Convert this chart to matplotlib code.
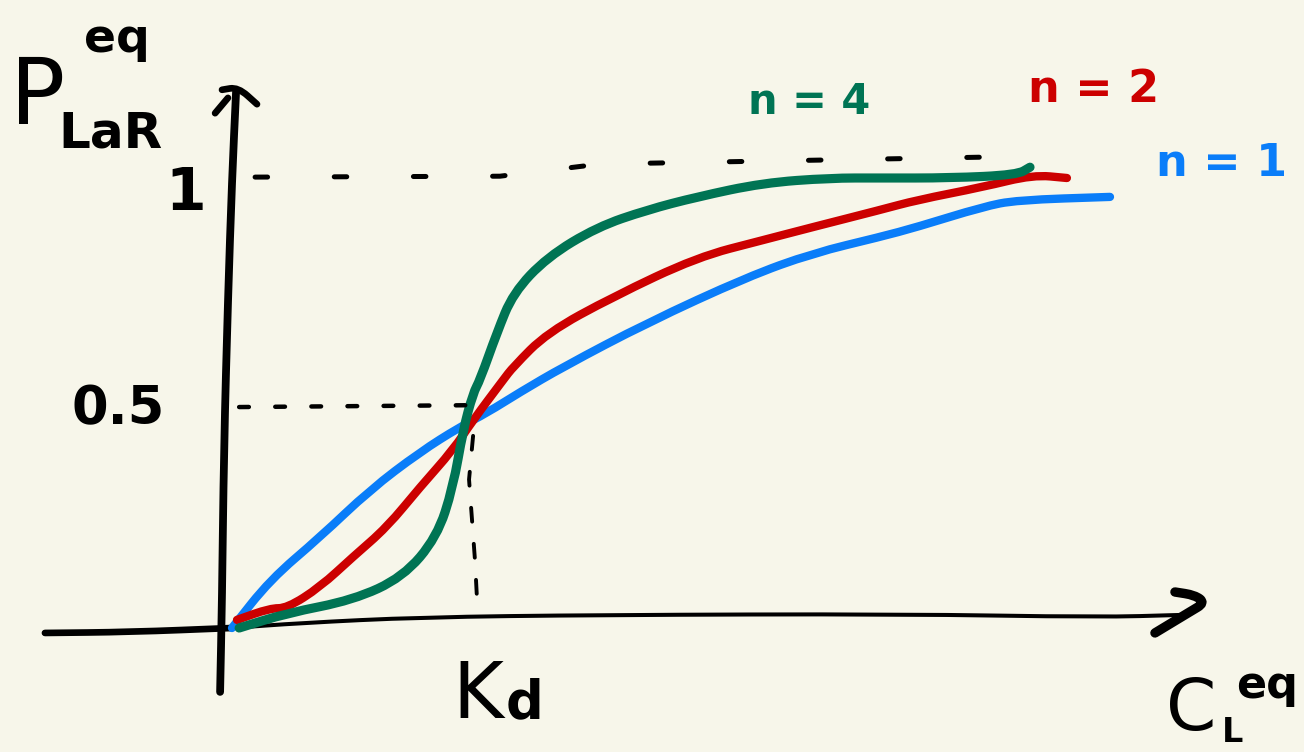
import matplotlib
matplotlib.use("Agg")
import matplotlib.pyplot as plt
from matplotlib.path import Path
from matplotlib.patches import PathPatch

plt.rcParams["lines.scale_dashes"] = False
plt.rcParams["font.family"] = ["DejaVu Sans"]

# Ligand concentration (in units of Kd) and equilibrium bound fraction
conc_n1 = [0.0, 0.16, 0.37, 0.58, 0.79, 0.958, 1.071, 1.21, 1.391, 1.744,
           2.164, 2.441, 2.723, 2.878, 3.155, 3.298, 3.689]
p_n1 = [0.0, 0.107, 0.202, 0.307, 0.391, 0.447, 0.478, 0.524, 0.58, 0.678,
        0.78, 0.833, 0.869, 0.891, 0.936, 0.951, 0.958]

conc_n2 = [0.021, 0.16, 0.231, 0.37, 0.508, 0.651, 0.79, 0.929, 1.013, 1.139,
           1.181, 1.324, 1.601, 1.954, 2.231, 2.441, 2.723, 2.878, 3.155,
           3.366, 3.508]
p_n2 = [0.018, 0.044, 0.044, 0.091, 0.158, 0.224, 0.313, 0.396, 0.462, 0.551,
        0.58, 0.656, 0.736, 0.824, 0.862, 0.891, 0.929, 0.951, 0.98, 1.007,
        1.0]

conc_n4 = [0.03, 0.231, 0.508, 0.718, 0.861, 0.929, 0.971, 1.013, 1.042,
           1.113, 1.181, 1.324, 1.534, 1.744, 1.954, 2.231, 2.513, 2.723,
           3.017, 3.298, 3.353]
p_n4 = [0.0, 0.033, 0.062, 0.113, 0.202, 0.313, 0.44, 0.522, 0.551, 0.656,
        0.744, 0.824, 0.891, 0.929, 0.958, 0.989, 1.0, 1.0, 1.0, 1.007, 1.024]

# Guide lines: saturation level, half-saturation level and Kd
sat_x = [0.097, 1.126, 1.546, 3.227]
sat_y = [1.002, 1.004, 1.031, 1.047]
half_x = [0.03, 0.98]
half_y = [0.491, 0.495]
kd_x = [1.013, 0.996, 1.021, 1.03]
kd_y = [0.427, 0.33, 0.15, 0.058]

# Hand-drawn axes
yaxis_x = [-0.05, -0.042, -0.034, -0.017, 0.0, 0.017]
yaxis_y = [-0.142, 0.062, 0.396, 0.729, 0.996, 1.191]
yhead_left_x = [-0.071, -0.017]
yhead_left_y = [1.144, 1.178]
yhead_cap_x = [-0.042, 0.025, 0.105]
yhead_cap_y = [1.196, 1.202, 1.164]
xaxis_left_x = [-0.786, -0.429, 0.0]
xaxis_left_y = [-0.011, -0.009, 0.0]
xaxis_x = [0.0, 0.286, 0.79, 1.546, 2.807, 3.647, 3.983]
xaxis_y = [0.0, 0.011, 0.024, 0.029, 0.031, 0.024, 0.029]
xhead_x = [3.962, 4.046, 4.088, 4.025, 3.878]
xhead_y = [0.08, 0.073, 0.056, 0.036, -0.011]

BG = "#f7f6ea"
BLUE = "#0a7df9"
RED = "#cc0000"
GREEN = "#007454"
INK = "black"

W, H = 1304, 752
X0, XU, Y0, YU = 232, 238, 628, 450

fig = plt.figure(figsize=(W / 100, H / 100), dpi=100, facecolor=BG)
ax = fig.add_axes([0, 0, 1, 1], facecolor=BG)
ax.set_xlim(-X0 / XU, (W - X0) / XU)
ax.set_ylim((Y0 - H) / YU, Y0 / YU)
ax.axis("off")


def stroke(xs, ys, color, lw):
    """Draw a smooth pen stroke through the given points (quadratic
    curves between midpoints, with the points as control points)."""
    pts = list(zip(xs, ys))
    if len(pts) < 3:
        verts, codes = pts, [Path.MOVETO, Path.LINETO]
    else:
        mid = lambda a, b: ((a[0] + b[0]) / 2, (a[1] + b[1]) / 2)
        verts = [pts[0], mid(pts[0], pts[1])]
        codes = [Path.MOVETO, Path.LINETO]
        for i in range(1, len(pts) - 1):
            verts += [pts[i], mid(pts[i], pts[i + 1])]
            codes += [Path.CURVE3, Path.CURVE3]
        verts.append(pts[-1])
        codes.append(Path.LINETO)
    ax.add_patch(PathPatch(Path(verts, codes), fill=False, edgecolor=color,
                           lw=lw, capstyle="round", joinstyle="round"))


rnd = dict(solid_capstyle="round", solid_joinstyle="round",
           dash_capstyle="round")

# axes
stroke(yaxis_x, yaxis_y, INK, 5.6)
stroke(yhead_left_x, yhead_left_y, INK, 4.8)
stroke(yhead_cap_x, yhead_cap_y, INK, 4.8)
stroke(xaxis_left_x, xaxis_left_y, INK, 4.8)
stroke(xaxis_x, xaxis_y, INK, 2.9)
stroke(xhead_x, xhead_y, INK, 6.8)

# dashed guides
ax.plot(sat_x, sat_y, color=INK, lw=3.6, linestyle=(0, (9, 48)), **rnd)
ax.plot(half_x, half_y, color=INK, lw=3.2, linestyle=(0, (7, 19)), **rnd)
ax.plot(kd_x, kd_y, color=INK, lw=2.8, linestyle=(0, (10, 16)), **rnd)

# binding curves
stroke(conc_n1, p_n1, BLUE, 6.0)
stroke(conc_n2, p_n2, RED, 6.0)
stroke(conc_n4, p_n4, GREEN, 6.6)


def label(px, py, s, size, color=INK, ha="left", weight="normal"):
    fig.text(px / W, 1 - py / H, s, fontsize=size, color=color, ha=ha,
             va="baseline", fontweight=weight)


label(10, 124, "P", 66)
label(84, 52, "eq", 34, weight="bold")
label(58, 148, "LaR", 36, weight="bold")
label(186, 210, "1", 42, ha="center", weight="bold")
label(72, 424, "0.5", 38, weight="bold")
label(452, 718, "K", 56)
label(506, 718, "d", 38, weight="bold")
label(1166, 730, "C", 52)
label(1222, 742, "L", 24, weight="bold")
label(1236, 698, "eq", 32, weight="bold")
label(748, 114, "n = 4", 30, color=GREEN, weight="bold")
label(1028, 102, "n = 2", 32, color=RED, weight="bold")
label(1156, 176, "n = 1", 32, color=BLUE, weight="bold")

fig.savefig("out.png", dpi=100, facecolor=BG)
